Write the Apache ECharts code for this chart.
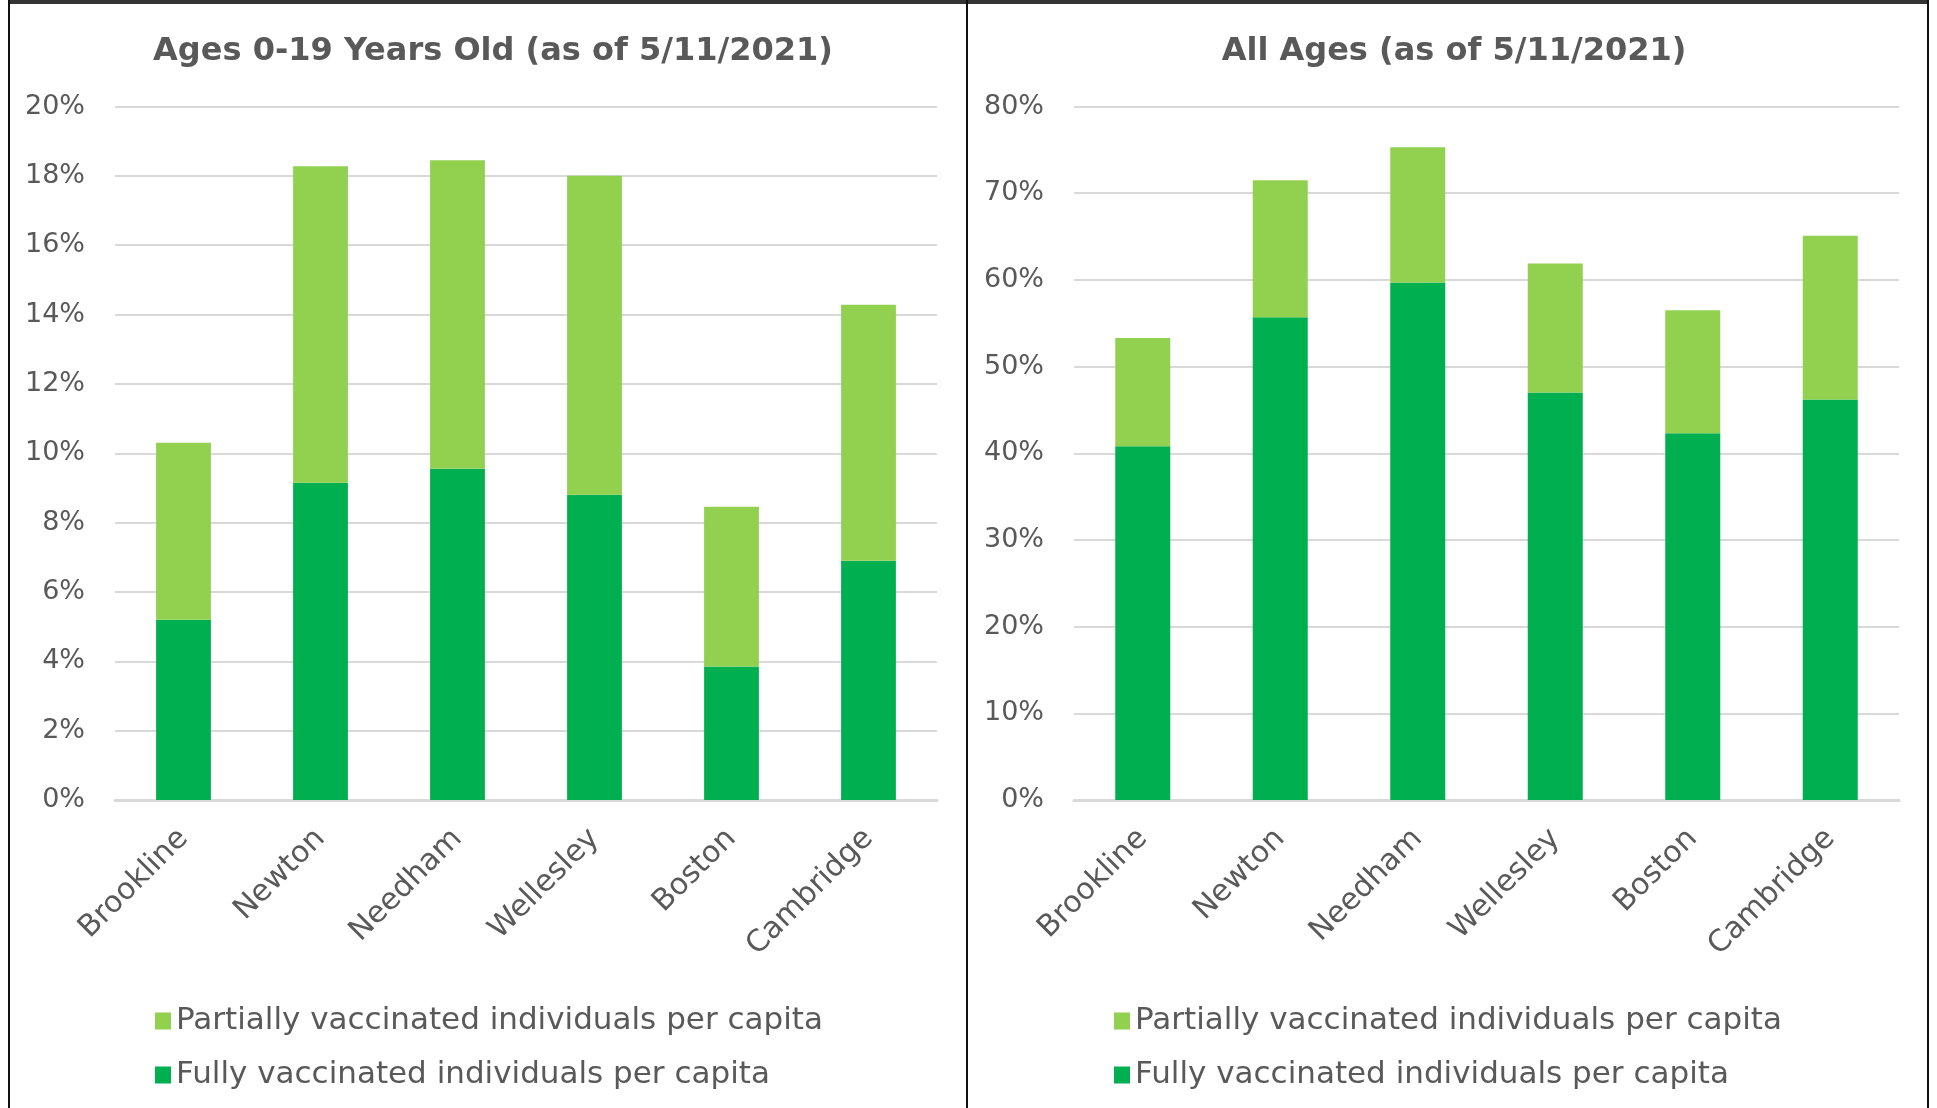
<!DOCTYPE html>
<html>
<head>
<meta charset="utf-8">
<script src="https://cdn.jsdelivr.net/npm/echarts@6/dist/echarts.min.js"></script>
<style>
html,body{margin:0;padding:0;background:#fff;}
#chart{width:1937px;height:1108px;}
</style>
</head>
<body>
<div id="chart"></div>
<script>
const categories = ['Brookline', 'Newton', 'Needham', 'Wellesley', 'Boston', 'Cambridge'];
const youthFully = [5.2, 9.15, 9.55, 8.8, 3.85, 6.9];
const youthPartially = [5.1, 9.13, 8.9, 9.2, 4.61, 7.38];
const allFully = [40.8, 55.7, 59.7, 47.0, 42.3, 46.2];
const allPartially = [12.5, 15.8, 15.6, 14.9, 14.2, 18.9];
const titles = ['Ages 0-19 Years Old (as of 5/11/2021)', 'All Ages (as of 5/11/2021)'];
const seriesNames = ['Partially vaccinated individuals per capita', 'Fully vaccinated individuals per capita'];
const leftTicks = {max: 20, interval: 2};
const rightTicks = {max: 80, interval: 10};

const FONT = 'DejaVu Sans';
const TXT = '#595959';
const GRID = '#D9D9D9';
const C_PART = '#92D050';
const C_FULL = '#00B050';

const chart = echarts.init(document.getElementById('chart'));

function xAxis(gi) {
  return {
    type: 'category', gridIndex: gi, data: categories,
    axisLine: {show: true, lineStyle: {color: GRID, width: 3}},
    axisTick: {show: false},
    axisLabel: {rotate: 45, margin: 34, color: TXT, fontFamily: FONT, fontSize: 30}
  };
}
function yAxis(gi, t) {
  return {
    type: 'value', gridIndex: gi, min: 0, max: t.max, interval: t.interval,
    axisLine: {show: false}, axisTick: {show: false},
    splitLine: {lineStyle: {color: GRID, width: 2}},
    axisLabel: {formatter: '{value}%', margin: 30, color: TXT, fontFamily: FONT, fontSize: 27}
  };
}
function bar(name, data, gi, color) {
  return {
    name: name, type: 'bar', stack: 's' + gi, xAxisIndex: gi, yAxisIndex: gi,
    data: data, barWidth: '40%', itemStyle: {color: color}
  };
}
function legend(left) {
  return {
    orient: 'vertical', left: left, top: 1004, padding: 0, itemWidth: 16, itemHeight: 17, itemGap: 20,
    data: seriesNames, icon: 'rect',
    textStyle: {color: TXT, fontFamily: FONT, fontSize: 31, lineHeight: 34}
  };
}

chart.setOption({
  animation: false,
  backgroundColor: '#fff',
  title: [
    {text: titles[0], left: 488, top: 31, textAlign: 'center',
     textStyle: {color: TXT, fontFamily: FONT, fontSize: 32, fontWeight: 'bold'}},
    {text: titles[1], left: 1449, top: 31, textAlign: 'center',
     textStyle: {color: TXT, fontFamily: FONT, fontSize: 32, fontWeight: 'bold'}}
  ],
  grid: [
    {left: 115, right: 1000, top: 106.5, bottom: 308},
    {left: 1074, right: 38, top: 106.5, bottom: 308}
  ],
  xAxis: [xAxis(0), xAxis(1)],
  yAxis: [yAxis(0, leftTicks), yAxis(1, rightTicks)],
  legend: [legend(155), legend(1114)],
  series: [
    bar(seriesNames[1], youthFully, 0, C_FULL),
    bar(seriesNames[0], youthPartially, 0, C_PART),
    bar(seriesNames[1], allFully, 1, C_FULL),
    bar(seriesNames[0], allPartially, 1, C_PART)
  ],
  graphic: [
    {type: 'rect', shape: {x: 8, y: 0, width: 1920, height: 4}, style: {fill: '#333333'}, silent: true},
    {type: 'rect', shape: {x: 8, y: 0, width: 2, height: 1108}, style: {fill: '#111111'}, silent: true},
    {type: 'rect', shape: {x: 966, y: 0, width: 2, height: 1108}, style: {fill: '#111111'}, silent: true},
    {type: 'rect', shape: {x: 1927, y: 0, width: 2, height: 1108}, style: {fill: '#111111'}, silent: true}
  ]
});
</script>
</body>
</html>
